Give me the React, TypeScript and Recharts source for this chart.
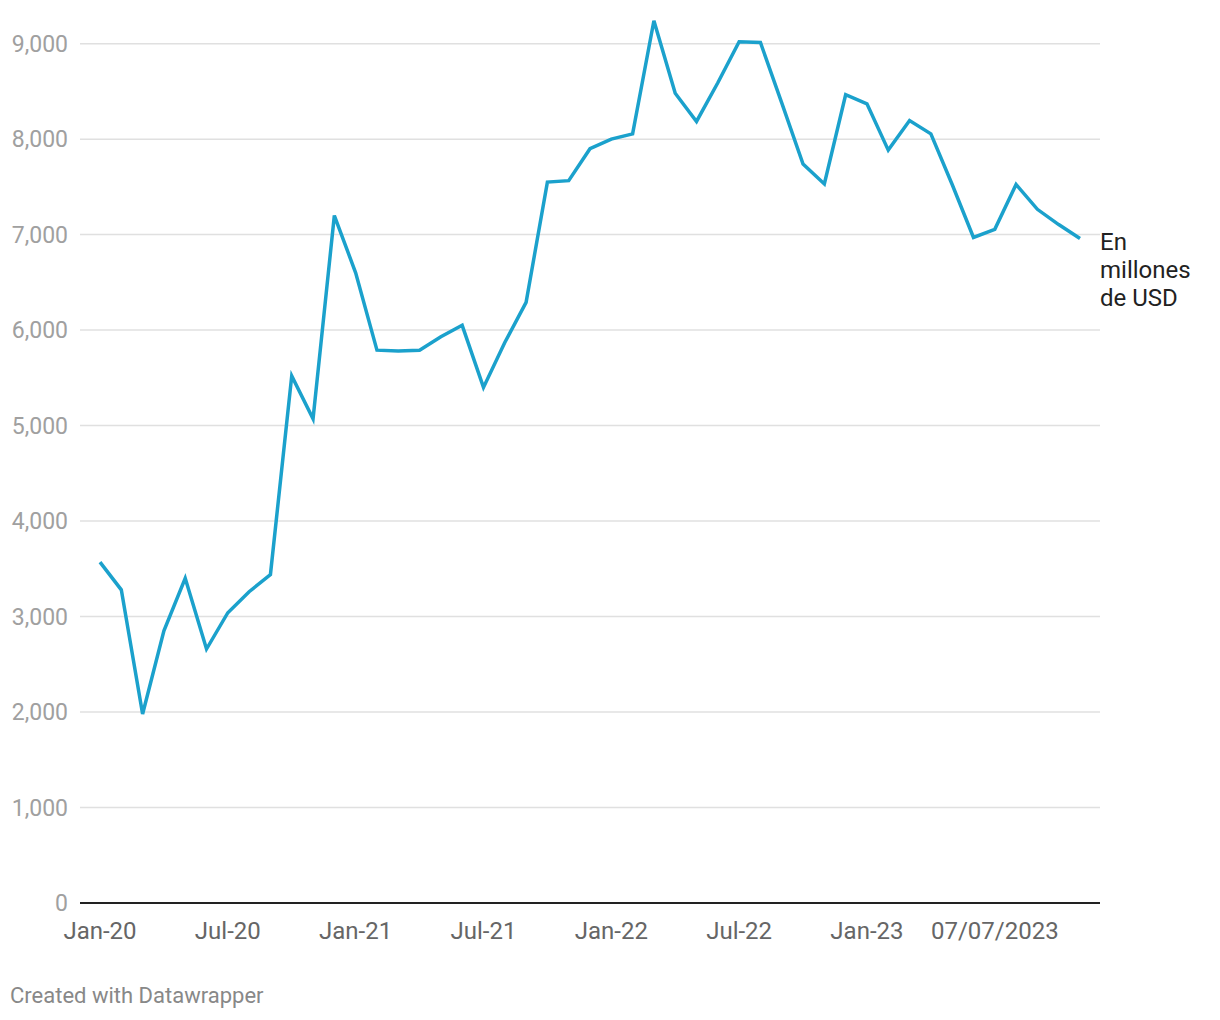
import { LineChart, Line, XAxis, YAxis, CartesianGrid } from 'recharts'

// monthly, Jan 2020 - Nov 2023 (Jul-23 is labelled with a date in the source)
const months = [
  'Jan-20', 'Feb-20', 'Mar-20', 'Apr-20', 'May-20', 'Jun-20', 'Jul-20', 'Aug-20', 'Sep-20', 'Oct-20', 'Nov-20', 'Dec-20',
  'Jan-21', 'Feb-21', 'Mar-21', 'Apr-21', 'May-21', 'Jun-21', 'Jul-21', 'Aug-21', 'Sep-21', 'Oct-21', 'Nov-21', 'Dec-21',
  'Jan-22', 'Feb-22', 'Mar-22', 'Apr-22', 'May-22', 'Jun-22', 'Jul-22', 'Aug-22', 'Sep-22', 'Oct-22', 'Nov-22', 'Dec-22',
  'Jan-23', 'Feb-23', 'Mar-23', 'Apr-23', 'May-23', 'Jun-23', '07/07/2023', 'Aug-23', 'Sep-23', 'Oct-23', 'Nov-23',
]

const values = [
  3570, 3280, 1980, 2850, 3400, 2660, 3040, 3260, 3440, 5520, 5070, 7200,
  6600, 5790, 5780, 5790, 5930, 6050, 5400, 5870, 6290, 7550, 7565, 7900,
  8000, 8055, 9240, 8480, 8185, 8590, 9020, 9012, 8380, 7740, 7530, 8465,
  8370, 7885, 8195, 8055, 7525, 6970, 7055, 7525, 7265, 7105, 6960,
]

const yTicks = [0, 1000, 2000, 3000, 4000, 5000, 6000, 7000, 8000, 9000]

const unitLines = ['En', 'millones', 'de USD']

const data = months.map((m, i) => ({ month: m, value: values[i] }))

const font = 'Roboto, "Noto Sans", sans-serif'

function EndLabel(props: any) {
  const { x, y, index } = props
  if (index !== values.length - 1) return null
  return (
    <text x={x + 20} y={y + 3} fontSize={24} fill="#222" fontFamily={font}>
      {unitLines.map((t, i) => (
        <tspan key={t} x={x + 20} dy={i === 0 ? '0.355em' : 28}>
          {t}
        </tspan>
      ))}
    </text>
  )
}

export default function App() {
  return (
    <div style={{ position: 'relative', width: 1204, height: 1004, fontFamily: font }}>
      <LineChart
        width={1204}
        height={960}
        data={data}
        margin={{ top: 7, right: 112, left: 0, bottom: 25 }}
      >
        <CartesianGrid vertical={false} horizontalValues={yTicks} stroke="#e0e0e0" strokeWidth={1.5} />
        <XAxis
          dataKey="month"
          interval={5}
          padding={{ left: 20, right: 20 }}
          axisLine={{ stroke: '#222', strokeWidth: 2 }}
          tickLine={false}
          tickSize={0}
          tickMargin={19}
          height={40}
          tick={{ fontSize: 24, fill: '#666', fontFamily: font }}
        />
        <YAxis
          domain={[0, 9300]}
          ticks={yTicks}
          width={72}
          axisLine={false}
          tickLine={false}
          tickSize={0}
          tickMargin={12}
          tickFormatter={(v: number) => v.toLocaleString('en-US')}
          tick={{ fontSize: 23, fill: '#a0a0a0', fontFamily: font }}
        />
        <Line
          type="linear"
          dataKey="value"
          stroke="#1ba1cc"
          strokeWidth={3.5}
          dot={false}
          activeDot={false}
          isAnimationActive={false}
          label={<EndLabel />}
        />
      </LineChart>
      <div
        style={{
          position: 'absolute',
          left: 2,
          top: 975,
          fontSize: 22,
          color: '#888',
          whiteSpace: 'nowrap',
        }}
      >
        Created with Datawrapper
      </div>
    </div>
  )
}
